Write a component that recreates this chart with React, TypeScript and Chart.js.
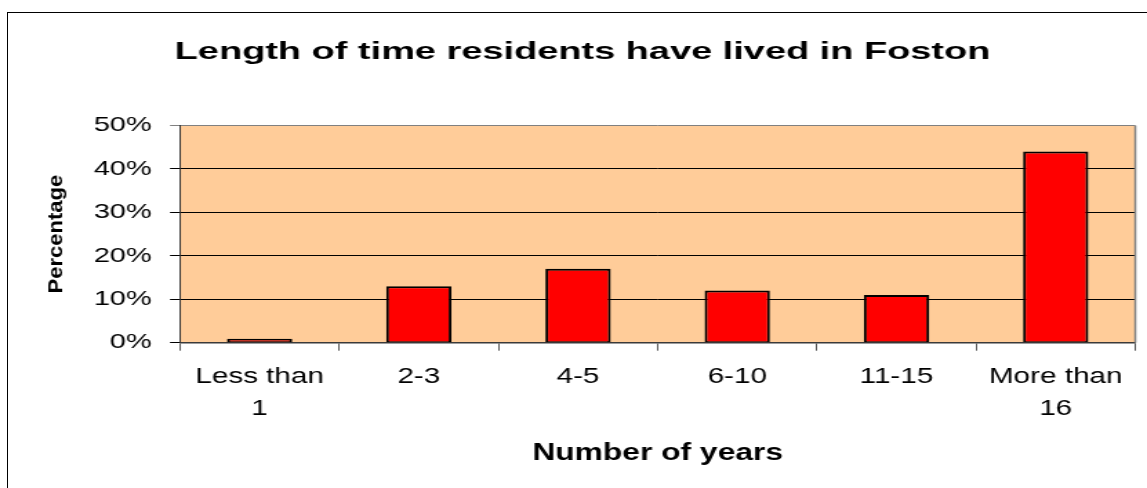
import React, { useEffect, useRef } from 'react';
import { Chart, registerables } from 'chart.js';

Chart.register(...registerables);

// ---- data ----
const categories: (string | string[])[] = [['Less than', '1'], '2-3', '4-5', '6-10', '11-15', ['More than', '16']];
const percentages: number[] = [0.9, 13, 17, 12, 11, 44];
const yTickValues: number[] = [0, 10, 20, 30, 40, 50];
const chartTitle = 'Length of time residents have lived in Foston';
const xAxisTitle = 'Number of years';
const yAxisTitle = 'Percentage';

// ---- geometry (the reference text is horizontally stretched, so the canvas is drawn narrower and scaled in x) ----
const W = 1147;
const H = 488;
const CW = 831;
const S = W / CW;
const FONT = "'Liberation Sans', Arial, Helvetica, sans-serif";

const PLOT_LEFT = 180 / S;
const PLOT_RIGHT = 1135.3 / S;
const PAD_RIGHT = CW - PLOT_RIGHT;
const TITLE_CX = 582.5 / S;
const PAD_LEFT = 2 * TITLE_CX - (CW - PAD_RIGHT);
const Y_WIDTH = PLOT_LEFT - PAD_LEFT;
const X_HEIGHT = H - 342.7;
const Y_TICK_LEN = 10 / S;
const Y_TICK_PAD = PLOT_LEFT - Y_TICK_LEN - 151.7 / S;
const Y_TITLE_SIZE = 22;
const Y_TITLE_LH = Y_TITLE_SIZE * 1.2;
const Y_TITLE_PAD = 56 / S - PAD_LEFT - Y_TITLE_LH / 2;

export default function App() {
  const ref = useRef<HTMLCanvasElement>(null);

  useEffect(() => {
    const canvas = ref.current;
    if (!canvas) return;

    const excelLook = {
      id: 'excelLook',
      beforeDraw(chart: any) {
        const { ctx, chartArea: a } = chart;
        ctx.save();
        ctx.fillStyle = '#FFCC99';
        ctx.fillRect(a.left, a.top, a.right - a.left, a.bottom - a.top);
        ctx.restore();

        const tb = chart.titleBlock;
        if (tb && !tb.__wrapped) {
          const orig = tb.draw.bind(tb);
          tb.draw = (...args: any[]) => {
            const c = chart.ctx;
            const cx = (tb.left + tb.right) / 2;
            c.save();
            c.translate(cx, 0);
            c.scale(1.145, 1);
            c.translate(-cx, 0);
            orig(...args);
            c.restore();
          };
          tb.__wrapped = true;
        }
        const ys = chart.scales.y;
        if (ys && !ys.__wrapped) {
          const origT = ys.drawTitle.bind(ys);
          ys.drawTitle = (...args: any[]) => {
            const c = chart.ctx;
            const cx = ys.left + Y_TITLE_PAD + Y_TITLE_LH / 2;
            c.save();
            c.translate(cx, 0);
            c.scale(0.66, 1);
            c.translate(-cx, 0);
            origT(...args);
            c.restore();
          };
          ys.__wrapped = true;
        }
      },
      beforeDatasetsDraw(chart: any) {
        const { ctx, chartArea: a } = chart;
        ctx.save();
        ctx.strokeStyle = '#808080';
        ctx.lineWidth = 1.5;
        ctx.beginPath();
        ctx.moveTo(a.right, a.top);
        ctx.lineTo(a.right, a.bottom);
        ctx.stroke();
        ctx.restore();
      },
    };

    const chart = new Chart(canvas, {
      type: 'bar',
      data: {
        labels: categories,
        datasets: [
          {
            data: percentages,
            backgroundColor: '#FF0000',
            borderColor: '#000000',
            borderWidth: { top: 2, left: 2, right: 2, bottom: 1 },
            borderSkipped: false,
            barPercentage: 0.41,
            categoryPercentage: 1,
          },
        ],
      },
      options: {
        responsive: false,
        maintainAspectRatio: false,
        animation: false,
        devicePixelRatio: 1,
        layout: { padding: { left: PAD_LEFT, right: PAD_RIGHT, top: 0, bottom: 0 } },
        plugins: {
          legend: { display: false },
          tooltip: { enabled: false },
          title: {
            display: true,
            text: chartTitle,
            color: '#000',
            font: { family: FONT, size: 24, weight: 'bold', lineHeight: 1.2 },
            padding: { top: 37.6, bottom: 59.1 },
          },
        },
        scales: {
          x: {
            type: 'category',
            offset: true,
            grid: {
              display: true,
              offset: true,
              drawOnChartArea: false,
              drawTicks: true,
              tickLength: 8,
              color: '#555',
              lineWidth: 1,
            },
            border: { display: true, color: '#3a3a3a', width: 1.5 },
            ticks: {
              color: '#000',
              autoSkip: false,
              maxRotation: 0,
              minRotation: 0,
              padding: 11,
              font: { family: FONT, size: 21.5, lineHeight: 1.47 },
            },
            title: {
              display: true,
              text: xAxisTitle,
              color: '#000',
              font: { family: FONT, size: 23, weight: 'bold', lineHeight: 1.2 },
              padding: { top: 0, bottom: 20.5 },
            },
            afterFit(scale: any) {
              scale.height = X_HEIGHT;
            },
          },
          y: {
            type: 'linear',
            min: 0,
            max: 50,
            afterBuildTicks(scale: any) {
              scale.ticks = yTickValues.map((v) => ({ value: v }));
            },
            grid: {
              display: true,
              drawOnChartArea: true,
              drawTicks: true,
              tickLength: Y_TICK_LEN,
              lineWidth: 1,
              color: (ctx: any) => (ctx.tick && ctx.tick.value === 50 ? '#808080' : '#000000'),
            },
            border: { display: true, color: '#333', width: 1 },
            ticks: {
              color: '#000',
              padding: Y_TICK_PAD,
              font: { family: FONT, size: 21 },
              callback: (v: any) => `${v}%`,
            },
            title: {
              display: true,
              text: yAxisTitle,
              color: '#000',
              font: { family: FONT, size: Y_TITLE_SIZE, weight: 'bold', lineHeight: 1.2 },
              padding: { top: Y_TITLE_PAD, bottom: 0 },
            },
            afterFit(scale: any) {
              scale.width = Y_WIDTH;
            },
          },
        },
      },
      plugins: [excelLook],
    } as any);

    return () => {
      chart.destroy();
    };
  }, []);

  return (
    <div
      style={{
        position: 'fixed',
        left: 0,
        top: 0,
        width: W,
        height: H,
        background: '#fff',
        overflow: 'hidden',
      }}
    >
      <div
        style={{
          position: 'absolute',
          left: 7,
          top: 12,
          width: W + 20,
          height: H + 20,
          borderLeft: '1px solid #000',
          borderTop: '1px solid #000',
        }}
      />
      <canvas
        ref={ref}
        width={CW}
        height={H}
        style={{
          position: 'absolute',
          left: 0,
          top: 0,
          display: 'block',
          width: CW + 'px',
          height: H + 'px',
          transform: `scaleX(${S})`,
          transformOrigin: '0 0',
        }}
      />
    </div>
  );
}
